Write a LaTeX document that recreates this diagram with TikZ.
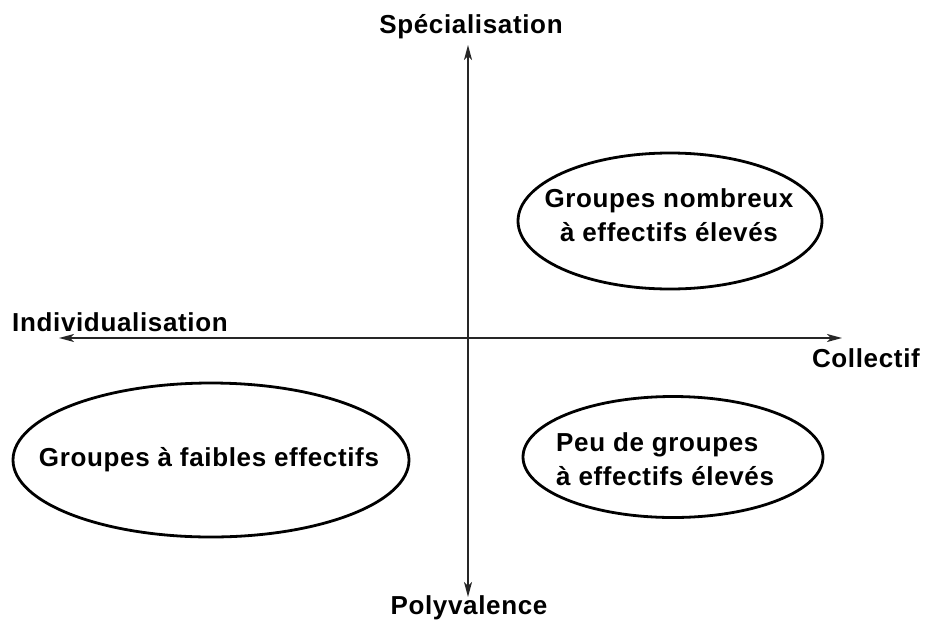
\documentclass[tikz,border=0pt]{standalone}
\usepackage{fontspec}
\setmainfont{Liberation Sans}[LetterSpace=2.5]
\usetikzlibrary{shapes.geometric,arrows.meta}
\begin{document}
\begin{tikzpicture}[x=1pt,y=-1pt,
  axis/.style={line width=1.4pt, draw=black!85, -{Stealth[length=15pt,width=8pt,inset=4pt]}},
  oval/.style={ellipse, draw, line width=2.8pt, inner sep=0pt},
  lbl/.style={font=\fontsize{26}{34}\selectfont\bfseries, inner sep=0pt},
  ttl/.style={font=\fontsize{26}{30}\selectfont\bfseries, inner sep=0pt}]
\useasboundingbox (0,0) rectangle (925,624);
\coordinate (c) at (468,338);
\coordinate (top) at (468,45);
\coordinate (bot) at (468,597);
\coordinate (lft) at (59,338);
\coordinate (rgt) at (842,338);
\draw[axis] (c) -- (top);
\draw[axis] (c) -- (bot);
\draw[axis] (c) -- (lft);
\draw[axis] (c) -- (rgt);
\node[ttl] (spec) at (471,27) {Spécialisation};
\node[ttl] (poly) at (469,608) {Polyvalence};
\node[ttl, anchor=west] (indiv) at (12,322) {Individualisation};
\node[ttl, anchor=east] (coll) at (920,358) {Collectif};
\node[oval, minimum width=304pt, minimum height=136pt] (e1) at (670,221) {};
\node[lbl, align=center] (t1) at (669,215) {Groupes nombreux\\à effectifs élevés};
\node[oval, minimum width=396pt, minimum height=154pt] (e2) at (211,460) {};
\node[lbl] (t2) at (209,460) {Groupes à faibles effectifs};
\node[oval, minimum width=300pt, minimum height=121pt] (e3) at (673,457) {};
\node[lbl, align=left, anchor=west] (t3) at (556,459) {Peu de groupes\\à effectifs élevés};
\end{tikzpicture}
\end{document}
